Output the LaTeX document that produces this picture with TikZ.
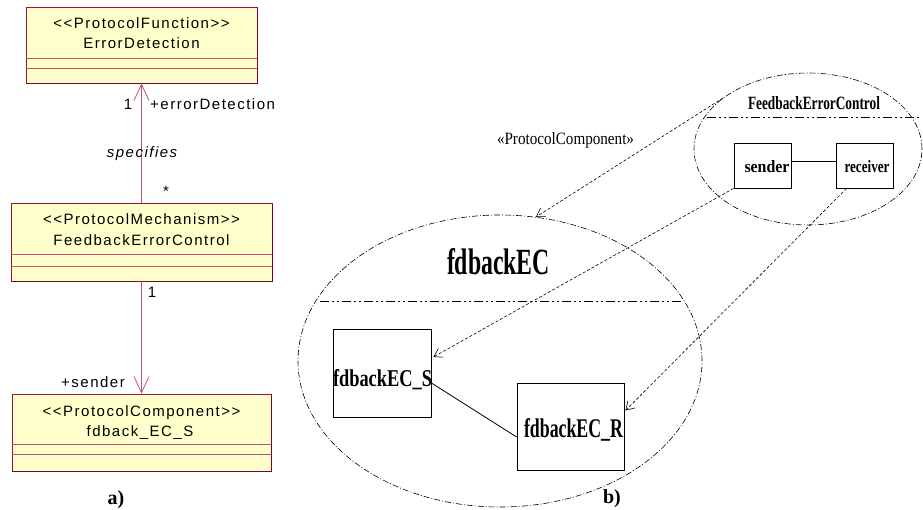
\documentclass[tikz,border=0pt]{standalone}
\usepackage{fontspec}
\usepackage{graphicx}
\setmainfont{Liberation Serif}
\newfontfamily\umlfont{Liberation Sans}[LetterSpace=10]
\usetikzlibrary{arrows.meta,shapes.geometric}
\definecolor{umlfill}{HTML}{FFFFCC}
\definecolor{umlborder}{HTML}{A0103C}
\definecolor{umldark}{HTML}{800030}
\definecolor{umlline}{HTML}{C05078}
\definecolor{umlcomp}{HTML}{C05070}
\newcommand{\fitbox}[3]{\resizebox{#1pt}{#2pt}{#3}}
\tikzset{
  umlbox/.style={draw=umlborder, fill=umlfill, line width=0.9pt, inner sep=0pt},
  umltext/.style={font=\umlfont\fontsize{15}{17}\selectfont, anchor=base, inner sep=0pt},
  compline/.style={draw=umlcomp, line width=0.8pt},
  assoc/.style={draw=umlline, line width=0.9pt},
  openhead/.style={-{Straight Barb[length=16pt,width=15pt,line width=0.8pt]}},
  plainbox/.style={draw=black, line width=0.8pt, inner sep=0pt, fill=none},
  dashdot/.style={draw=black, line width=0.6pt, dash pattern=on 6pt off 2pt on 1pt off 2pt},
  chord/.style={draw=black, line width=0.7pt, dash pattern=on 9pt off 3pt on 2pt off 3pt on 2pt off 3pt},
  depend/.style={draw=black, line width=0.6pt, dash pattern=on 3pt off 2pt, -{Straight Barb[length=8pt,width=10pt,line width=0.6pt]}},
  serifbold/.style={anchor=base, inner sep=0pt, font=\bfseries},
  lab/.style={anchor=base, inner sep=0pt, font=\bfseries\fontsize{20}{22}\selectfont}
}
\begin{document}
\begin{tikzpicture}[x=1pt,y=-1pt]
\useasboundingbox (0,0) rectangle (923,510);

% ---------- a) UML class diagram ----------
\node[umlbox, minimum width=231pt, minimum height=76pt] (ed) at (141.5,45) {};
\node[umlbox, minimum width=261pt, minimum height=78pt] (fec2) at (141.5,242) {};
\node[umlbox, minimum width=259pt, minimum height=77pt] (fcs) at (141.5,432.5) {};

\foreach \b/\u/\l in {ed/25/15, fec2/27/15, fcs/27/17}{
  \draw[compline] ([yshift=\u pt]\b.south west) -- ([yshift=\u pt]\b.south east);
  \draw[compline] ([yshift=\l pt]\b.south west) -- ([yshift=\l pt]\b.south east);
  \draw[umldark, line width=1.3pt] (\b.north east) -- (\b.south east) -- (\b.south west);
}

\node[umltext] (t1a) at (141.5,29) {<<ProtocolFunction>>};
\node[umltext] (t1b) at (141.5,49) {ErrorDetection};
\node[umltext] (t2a) at (141.5,225) {<<ProtocolMechanism>>};
\node[umltext] (t2b) at (141.5,246) {FeedbackErrorControl};
\node[umltext] (t3a) at (141.5,416) {<<ProtocolComponent>>};
\node[umltext] (t3b) at (140,436) {fdback\_EC\_S};

\draw[assoc, openhead] (fec2.north) -- (ed.south);
\draw[assoc, openhead] (fec2.south) -- (fcs.north);

\node[umltext] (m1) at (128,110) {1};
\node[umltext, anchor=base west] (r1) at (150,110) {+errorDetection};
\node[umltext, font=\umlfont\itshape\fontsize{15}{17}\selectfont] (sp) at (142,158) {specifies};
\node[umltext] (m2) at (166,197) {*};
\node[umltext] (m3) at (152,298) {1};
\node[umltext] (r2) at (93,387) {+sender};
\node[lab] (la) at (116,504) {a)};

% ---------- b) component view ----------
\node[ellipse, dashdot, minimum width=404pt, minimum height=292pt, inner sep=0pt] (big) at (500,361) {};
\draw[chord] (320,301) -- (683,301);
\node[ellipse, dashdot, minimum width=228pt, minimum height=152pt, inner sep=0pt] (small) at (808,149) {};
\draw[chord] (707,117) -- (919,117);

\node[serifbold] (tbig) at (498.5,275) {\fitbox{103}{26}{\bfseries fdbackEC}};
\node[serifbold] (tsmall) at (814,110) {\fitbox{132}{13}{\bfseries FeedbackErrorControl}};
\node[anchor=base, inner sep=0pt] (stereo) at (565.5,145) {\fitbox{137}{12}{«ProtocolComponent»}};

\node[plainbox, minimum width=57pt, minimum height=45pt] (snd) at (762.5,165.5) {};
\node[plainbox, minimum width=57pt, minimum height=45pt] (rcv) at (864.5,165.5) {};
\node[serifbold] (tsnd) at (767,173) {\fitbox{45}{12}{\bfseries sender}};
\node[serifbold] (trcv) at (867,173) {\fitbox{45}{12}{\bfseries receiver}};
\draw[line width=0.8pt] ([yshift=4pt]snd.east) -- ([yshift=4pt]rcv.west);

\node[plainbox, minimum width=98pt, minimum height=88pt] (ecs) at (382,373) {};
\node[plainbox, minimum width=107pt, minimum height=87pt] (ecr) at (570.5,426.5) {};
\node[serifbold] (tecs) at (382.5,386) {\fitbox{99}{17}{\bfseries fdbackEC\_S}};
\node[serifbold] (tecr) at (573.5,437) {\fitbox{99}{19}{\bfseries fdbackEC\_R}};
\draw[line width=0.8pt] ([yshift=-10pt]ecs.east) -- ([yshift=-10.5pt]ecr.west);

\draw[depend] (small.149) -- (big.76);
\draw[depend] (snd.south west) -- ([yshift=16pt,xshift=2pt]ecs.east);
\draw[depend] ([xshift=11pt]rcv.south west) -- ([yshift=16pt,xshift=1pt]ecr.east);

\node[lab] (lb) at (612,503) {b)};
\end{tikzpicture}
\end{document}
